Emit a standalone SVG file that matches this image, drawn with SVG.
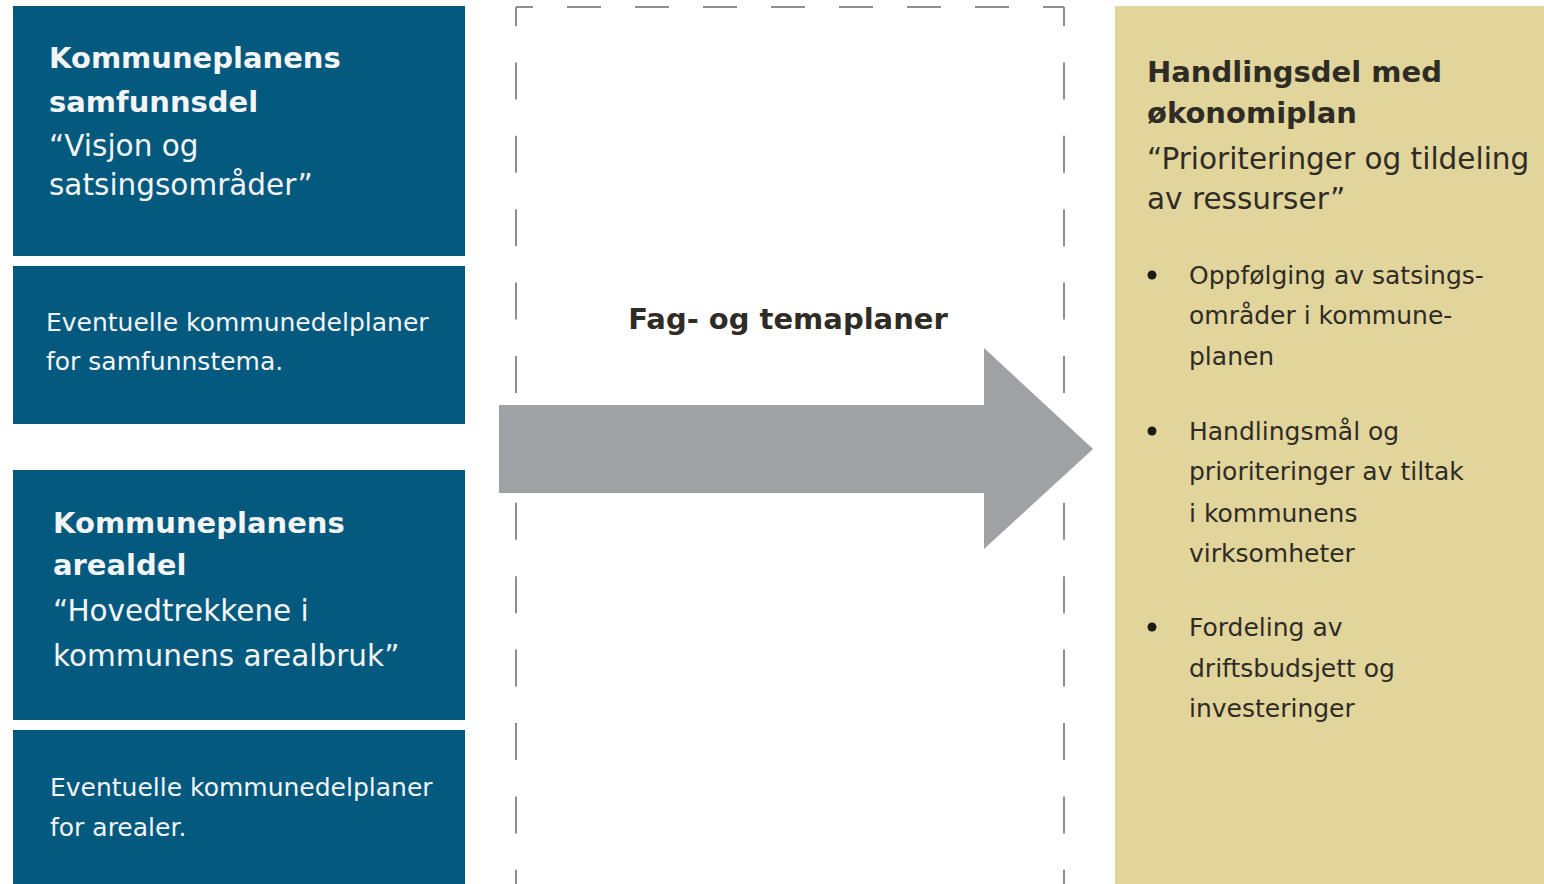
<svg xmlns="http://www.w3.org/2000/svg" width="1544" height="884" viewBox="0 0 1544 884">
<style>
.blue{fill:#03597E}
.yel{fill:#E2D59C}
.wt{font-family:"DejaVu Sans",sans-serif;fill:#F3F5F6}
.dk{font-family:"DejaVu Sans",sans-serif;fill:#2F2C26}
.h{font-size:29px;font-weight:bold}
.sub{font-size:29.5px}
.sm{font-size:25px}
.dash{stroke:#8E8E8E;stroke-width:2;fill:none}
</style>
<rect width="1544" height="884" fill="#FFFFFF"/>
<g id="connectors">
  <line class="dash" x1="516" y1="7" x2="1064" y2="7" stroke-dasharray="34 34" stroke-dashoffset="17"/>
  <line class="dash" x1="516" y1="7" x2="516" y2="884" stroke-dasharray="37 36.4" stroke-dashoffset="18"/>
  <line class="dash" x1="1064" y1="7" x2="1064" y2="884" stroke-dasharray="37 36.4" stroke-dashoffset="18"/>
  <polygon id="arrow" points="499,405 984,405 984,348 1093,449 984,549 984,493 499,493" fill="#A0A1A4"/>
  <text class="dk" x="788" y="329" font-size="29" font-weight="bold" text-anchor="middle" fill="#231F20">Fag- og temaplaner</text>
</g>
<g id="samfunnsdel">
  <rect class="blue" x="13" y="6" width="452" height="250"/>
  <text class="wt h" x="49" y="68">Kommuneplanens</text>
  <text class="wt h" x="49" y="112">samfunnsdel</text>
  <text class="wt sub" x="49" y="156">“Visjon og</text>
  <text class="wt sub" x="49" y="195">satsingsområder”</text>
</g>
<g id="kdp-samfunn">
  <rect class="blue" x="13" y="266" width="452" height="158"/>
  <text class="wt sm" x="46" y="331">Eventuelle kommunedelplaner</text>
  <text class="wt sm" x="46" y="370">for samfunnstema.</text>
</g>
<g id="arealdel">
  <rect class="blue" x="13" y="470" width="452" height="250"/>
  <text class="wt h" x="53" y="533">Kommuneplanens</text>
  <text class="wt h" x="53" y="575">arealdel</text>
  <text class="wt sub" x="53" y="621">“Hovedtrekkene i</text>
  <text class="wt sub" x="53" y="666">kommunens arealbruk”</text>
</g>
<g id="kdp-areal">
  <rect class="blue" x="13" y="730" width="452" height="154"/>
  <text class="wt sm" x="50" y="796">Eventuelle kommunedelplaner</text>
  <text class="wt sm" x="50" y="836">for arealer.</text>
</g>
<g id="handlingsdel">
  <rect class="yel" x="1115" y="6" width="429" height="878"/>
  <text class="dk h" x="1147" y="82">Handlingsdel med</text>
  <text class="dk h" x="1147" y="123">økonomiplan</text>
  <text class="dk sub" x="1147" y="169">“Prioriteringer og tildeling</text>
  <text class="dk sub" x="1147" y="209">av ressurser”</text>
  <circle cx="1152" cy="275" r="4.5" fill="#1E1B17"/>
  <circle cx="1152" cy="431" r="4.5" fill="#1E1B17"/>
  <circle cx="1152" cy="627" r="4.5" fill="#1E1B17"/>
  <text class="dk sm" x="1189" y="284">Oppfølging av satsings-</text>
  <text class="dk sm" x="1189" y="324">områder i kommune-</text>
  <text class="dk sm" x="1189" y="365">planen</text>
  <text class="dk sm" x="1189" y="440">Handlingsmål og</text>
  <text class="dk sm" x="1189" y="480">prioriteringer av tiltak</text>
  <text class="dk sm" x="1189" y="522">i kommunens</text>
  <text class="dk sm" x="1189" y="562">virksomheter</text>
  <text class="dk sm" x="1189" y="636">Fordeling av</text>
  <text class="dk sm" x="1189" y="677">driftsbudsjett og</text>
  <text class="dk sm" x="1189" y="717">investeringer</text>
</g>
</svg>
